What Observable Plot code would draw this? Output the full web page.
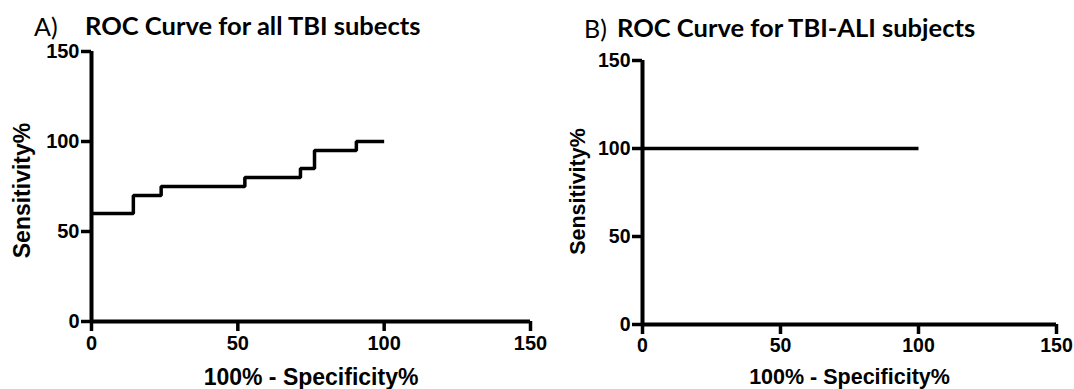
<!DOCTYPE html>
<html>
<head>
<meta charset="utf-8">
<script src="https://cdn.jsdelivr.net/npm/d3@7"></script>
<script src="https://cdn.jsdelivr.net/npm/@observablehq/plot@0.6"></script>
<style>
  html, body { margin: 0; padding: 0; background: #fff; overflow: hidden; }
  #wrap { position: relative; width: 1074px; height: 389px; background: #fff; overflow: hidden; }
  .panel { position: absolute; top: 0; }
  .ttl { position: absolute; font-family: Lato, "Open Sans", sans-serif; color: #000; line-height: 1; white-space: nowrap; }
  .tag { font-weight: normal; }
  .main { font-weight: bold; }
</style>
</head>
<body>
<div id="wrap"></div>
<script>
// ---- data ----
const fprA = [0, 14.3, 23.8, 52.4, 71.4, 76.2, 90.5, 100];
const tprA = [60, 70, 75, 80, 85, 95, 100, 100];
const fprB = [0, 100];
const tprB = [100, 100];
const xTicks = [0, 50, 100, 150];
const yTicks = [0, 50, 100, 150];
const panelTags = ["A)", "B)"];
const panelTitles = ["ROC Curve for all TBI subects", "ROC Curve for TBI-ALI subjects"];
const xLabel = "100% - Specificity%";
const yLabel = "Sensitivity%";

const rowsA = fprA.map((x, i) => ({x, y: tprA[i]}));
const rowsB = fprB.map((x, i) => ({x, y: tprB[i]}));

function panel(rows, o) {
  return Plot.plot({
    width: o.width,
    height: 389,
    marginLeft: o.ml,
    marginRight: o.mr,
    marginTop: o.mt,
    marginBottom: o.mb,
    style: {fontFamily: '"Liberation Sans", Arial, sans-serif', fontWeight: "bold", fontSize: o.tickFont + "px", color: "#000", background: "transparent", overflow: "visible"},
    x: {domain: [0, 150]},
    y: {domain: [0, 150]},
    marks: [
      Plot.axisX({ticks: xTicks, tickSize: 10, tickPadding: 4, strokeWidth: 3.5, label: null, tickFormat: d => d}),
      Plot.axisY({ticks: yTicks, tickSize: 10, tickPadding: 2, strokeWidth: 3.5, label: null, tickFormat: d => d}),
      Plot.ruleX([0], {strokeWidth: 4, stroke: "#000"}),
      Plot.ruleY([0], {strokeWidth: 4, stroke: "#000"}),
      Plot.line(rows, {x: "x", y: "y", curve: "step-after", stroke: "#000", strokeWidth: 3.5, strokeLinejoin: "miter", strokeLinecap: "butt"}),
      Plot.text([yLabel], {frameAnchor: "left", rotate: -90, dx: o.ylDx, dy: o.ylDy, fontSize: o.labelFont, fontWeight: "bold", fill: "#000", textAnchor: "middle", lineAnchor: "middle"}),
      Plot.text([xLabel], {frameAnchor: "bottom", dy: o.xlDy, fontSize: o.labelFont, fontWeight: "bold", fill: "#000", textAnchor: "middle", lineAnchor: "middle"})
    ]
  });
}

const wrap = document.getElementById("wrap");

const confs = [
  {left: 0, width: 565, ml: 91, mr: 35, mt: 51, mb: 68, tickFont: 20, labelFont: 23, ylDx: -69, ylDy: 4, xlDy: 56,
   tagX: 34, titleX: 85, baseline: 36, tagSize: 25, titleSize: 25.5},
  {left: 540, width: 534, ml: 102, mr: 18, mt: 60, mb: 65, tickFont: 19.5, labelFont: 21.5, ylDx: -64, ylDy: -1, xlDy: 53,
   tagX: 584, titleX: 617, baseline: 38, tagSize: 25, titleSize: 25.5}
];
const rowsAll = [rowsA, rowsB];

confs.forEach((c, i) => {
  const div = document.createElement("div");
  div.className = "panel";
  div.style.left = c.left + "px";
  div.appendChild(panel(rowsAll[i], c));
  wrap.appendChild(div);

  const tag = document.createElement("div");
  tag.className = "ttl tag";
  tag.textContent = panelTags[i];
  tag.style.fontSize = c.tagSize + "px";
  tag.style.left = c.tagX + "px";
  tag.style.top = (c.baseline - 0.887 * c.tagSize) + "px";
  wrap.appendChild(tag);

  const t = document.createElement("div");
  t.className = "ttl main";
  t.textContent = panelTitles[i];
  t.style.fontSize = c.titleSize + "px";
  t.style.left = c.titleX + "px";
  t.style.top = (c.baseline - 0.887 * c.titleSize) + "px";
  wrap.appendChild(t);
});
</script>
</body>
</html>
